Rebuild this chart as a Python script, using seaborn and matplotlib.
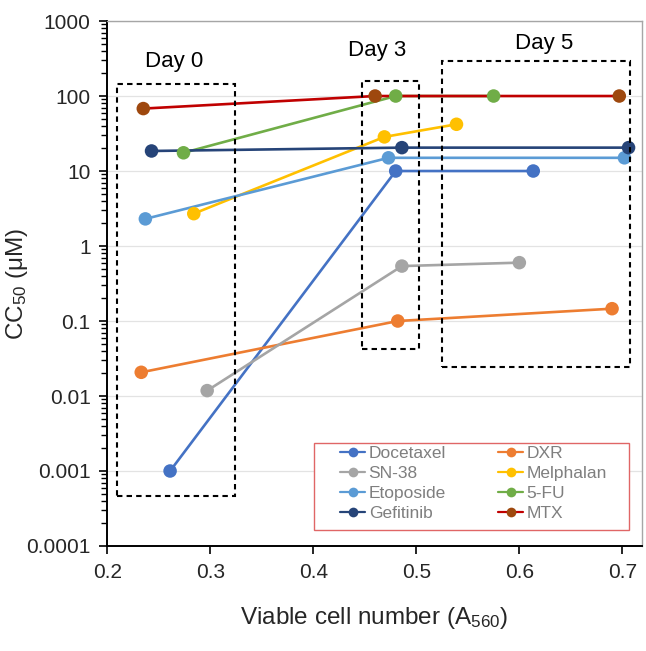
import pandas as pd
import numpy as np
import matplotlib
matplotlib.use('Agg')
import matplotlib.pyplot as plt
from matplotlib.patches import Rectangle
from matplotlib.lines import Line2D
import matplotlib.ticker as mticker
import seaborn as sns

# data
drugs = ['Docetaxel', 'DXR', 'SN-38', 'Melphalan', 'Etoposide', '5-FU', 'Gefitinib', 'MTX']
cell_number = {
    'Docetaxel': [0.261, 0.480, 0.6135],
    'DXR':       [0.233, 0.482, 0.690],
    'SN-38':     [0.297, 0.486, 0.600],
    'Melphalan': [0.284, 0.469, 0.539],
    'Etoposide': [0.237, 0.473, 0.702],
    '5-FU':      [0.274, 0.480, 0.575],
    'Gefitinib': [0.243, 0.486, 0.706],
    'MTX':       [0.235, 0.460, 0.697],
}
cc50 = {
    'Docetaxel': [0.001, 10, 10],
    'DXR':       [0.0207, 0.1, 0.146],
    'SN-38':     [0.0118, 0.54, 0.60],
    'Melphalan': [2.7, 28.5, 42],
    'Etoposide': [2.3, 15, 15],
    '5-FU':      [17.5, 100, 100],
    'Gefitinib': [18.5, 20.5, 20.5],
    'MTX':       [68, 100, 100],
}
days = ['Day 0', 'Day 3', 'Day 5']
# dashed day boxes: (x0, x1, y0, y1)
day_boxes = [(0.2092, 0.324, 0.00046, 145),
             (0.447, 0.5023, 0.042, 157),
             (0.5253, 0.7077, 0.024, 293)]
day_label_pos = [(0.2648, 287), (0.4617, 402), (0.624, 504)]

marker_colors = {'Docetaxel': '#4472C4', 'DXR': '#ED7D31', 'SN-38': '#A5A5A5',
                 'Melphalan': '#FFC000', 'Etoposide': '#5B9BD5', '5-FU': '#70AD47',
                 'Gefitinib': '#264478', 'MTX': '#9E480E'}
line_colors = dict(marker_colors)
line_colors['MTX'] = '#C00000'

rows = []
for d in drugs:
    for x, y in zip(cell_number[d], cc50[d]):
        rows.append({'Drug': d, 'A560': x, 'CC50': y})
df = pd.DataFrame(rows)

sns.set_style('white')
plt.rcParams['font.family'] = ['Liberation Sans', 'DejaVu Sans']
plt.rcParams['mathtext.fontset'] = 'custom'
plt.rcParams['mathtext.rm'] = 'Liberation Sans'
plt.rcParams['mathtext.it'] = 'Liberation Sans:italic'
plt.rcParams['mathtext.bf'] = 'Liberation Sans:bold'

fig = plt.figure(figsize=(6.46, 6.51), dpi=100)
ax = fig.add_axes([0.166, 0.1613, 0.8274, 0.8064])
ax.set_yscale('log')

sns.lineplot(data=df, x='A560', y='CC50', hue='Drug', hue_order=drugs,
             palette=line_colors, estimator=None, linewidth=1.9,
             legend=False, ax=ax, zorder=2)
sns.scatterplot(data=df, x='A560', y='CC50', hue='Drug', hue_order=drugs,
                palette=marker_colors, s=95, linewidth=0, legend=False,
                ax=ax, zorder=3)

for (x0, x1, y0, y1) in day_boxes:
    ax.add_patch(Rectangle((x0, y0), x1 - x0, y1 - y0, fill=False,
                           edgecolor='black', linewidth=1.5,
                           linestyle=(0, (2.6, 2.0)), zorder=4))
for lab, (x, y) in zip(days, day_label_pos):
    ax.text(x, y, lab, ha='center', va='center', fontsize=16, color='black')

ax.set_xlim(0.2, 0.7188)
ax.set_ylim(1e-4, 1e3)
ax.set_xticks([0.2, 0.3, 0.4, 0.5, 0.6, 0.7])
ax.xaxis.set_major_formatter(mticker.FormatStrFormatter('%.1f'))
ax.yaxis.set_major_locator(mticker.LogLocator(base=10, numticks=20))
ax.yaxis.set_minor_locator(mticker.LogLocator(base=10, subs=np.arange(2, 10), numticks=20))
ax.yaxis.set_major_formatter(mticker.FuncFormatter(lambda v, p: '%g' % v))
ax.yaxis.set_minor_formatter(mticker.NullFormatter())

ax.tick_params(axis='x', which='major', direction='out', length=6, width=1.2,
               labelsize=15, pad=6, color='black', bottom=True)
ax.tick_params(axis='y', which='major', direction='out', length=6, width=1.2,
               labelsize=15, pad=6, color='black', left=True)
ax.tick_params(axis='y', which='minor', direction='out', length=4, width=1.0,
               color='black', left=True)

ax.grid(axis='y', which='major', color='#E3E3E3', linewidth=0.9, zorder=0)
ax.set_axisbelow(True)
for side in ['top', 'right']:
    ax.spines[side].set_color('#A6A6A6')
    ax.spines[side].set_linewidth(1.0)
for side in ['left', 'bottom']:
    ax.spines[side].set_color('black')
    ax.spines[side].set_linewidth(1.4)

ax.set_xlabel('Viable cell number (A$_{560}$)', fontsize=17.5)
ax.xaxis.set_label_coords(0.5, -0.112)
ax.set_ylabel('CC$_{50}$ (μM)', fontsize=17.5)
ax.yaxis.set_label_coords(-0.145, 0.5)

# legend border drawn as its own box, entries filled row by row as in the original
ax.add_patch(Rectangle((0.387, 0.03), 0.59, 0.167, transform=ax.transAxes,
                       fill=True, facecolor='white', edgecolor='#E06666',
                       linewidth=1.0, zorder=5))
order = ['Docetaxel', 'SN-38', 'Etoposide', 'Gefitinib', 'DXR', 'Melphalan', '5-FU', 'MTX']
handles = [Line2D([], [], color=line_colors[d], marker='o', markersize=7,
                  markerfacecolor=marker_colors[d], markeredgewidth=0,
                  linewidth=1.6) for d in order]
leg = ax.legend(handles, order, ncol=2, loc='upper left',
                bbox_to_anchor=(0.4355, 0.191), fontsize=12.5, frameon=False,
                handlelength=1.45, handletextpad=0.2, labelspacing=0.28,
                borderpad=0, columnspacing=3.0, borderaxespad=0)
leg.set_zorder(6)
for t in leg.get_texts():
    t.set_color('#7F7F7F')

fig.savefig('out.png', dpi=100)
